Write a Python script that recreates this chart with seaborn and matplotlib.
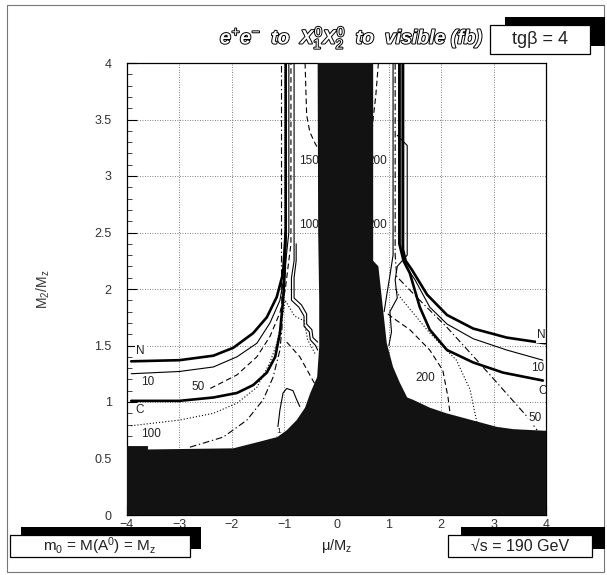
import matplotlib
matplotlib.use("Agg")
import matplotlib.pyplot as plt
import matplotlib.patheffects as pe
from matplotlib.patches import Rectangle
import seaborn as sns

# ---------------- data (mu/Mz , M2/Mz) ----------------
# excluded (black) region
BLACK_MU = [-0.36, -0.35, -0.33, -0.33, -0.37, -0.50, -0.60, -0.76, -0.95, -1.13, -1.46, -1.97,
            -3.60, -3.60, -4.00, -4.00, 4.00, 4.00, 3.37, 3.06, 2.74, 2.42, 2.10, 1.78, 1.46,
            1.35, 1.21, 1.08, 0.96, 0.87, 0.80, 0.70, 0.70]
BLACK_M2 = [4.00, 2.50, 1.90, 1.49, 1.22, 1.08, 0.95, 0.84, 0.75, 0.69, 0.65, 0.59,
            0.58, 0.61, 0.61, 0.00, 0.00, 0.745, 0.76, 0.78, 0.82, 0.86, 0.90, 0.95, 1.02,
            1.04, 1.17, 1.31, 1.52, 1.90, 2.20, 2.25, 4.00]

# left branch (mu < 0)
L_N_MU = [-3.92, -3.00, -2.35, -1.97, -1.59, -1.33, -1.14, -1.02, -0.97, -0.97]
L_N_M2 = [1.36, 1.37, 1.41, 1.48, 1.61, 1.75, 1.93, 2.14, 2.50, 4.00]
L_10_MU = [-3.92, -3.00, -2.35, -1.90, -1.52, -1.27, -1.08, -1.00, -0.91, -0.91]
L_10_M2 = [1.25, 1.27, 1.31, 1.40, 1.52, 1.70, 1.90, 2.11, 2.50, 4.00]
L_C_MU = [-3.92, -3.00, -2.35, -1.90, -1.59, -1.33, -1.17, -1.08, -1.02, -0.99, -0.97]
L_C_M2 = [1.01, 1.01, 1.04, 1.08, 1.15, 1.26, 1.40, 1.61, 1.90, 2.14, 2.50]
L_50_MU = [-2.41, -1.90, -1.52, -1.27, -1.08, -0.98, -0.87, -0.87]
L_50_M2 = [1.12, 1.24, 1.40, 1.58, 1.79, 1.99, 2.40, 4.00]
L_DOT_MU = [-3.92, -3.00, -2.35, -1.90, -1.52, -1.27, -1.14, -1.04, -0.98, -0.80, -0.62, -0.55, -0.40]
L_DOT_M2 = [0.79, 0.84, 0.90, 0.99, 1.13, 1.35, 1.52, 1.73, 1.90, 1.76, 1.72, 1.55, 1.42]
L_100_MU = [-2.80, -2.16, -1.71, -1.40, -1.21, -1.08, -1.04, -1.05, -1.05]
L_100_M2 = [0.60, 0.69, 0.84, 1.02, 1.22, 1.46, 1.66, 2.20, 4.00]
L_DD2_MU = [-0.95, -0.70, -0.45, -0.40]
L_DD2_M2 = [1.53, 1.40, 1.19, 1.15]
L_S1_MU = [-0.81, -0.81, -0.86, -0.86, -0.72, -0.62, -0.62, -0.52, -0.50, -0.40, -0.36]
L_S1_M2 = [4.00, 2.25, 2.10, 1.90, 1.84, 1.76, 1.67, 1.62, 1.55, 1.50, 1.46]
L_S2_MU = [-0.77, -0.77, -0.81, -0.81, -0.67, -0.57, -0.57, -0.47, -0.45, -0.36]
L_S2_M2 = [2.40, 2.25, 2.10, 1.92, 1.86, 1.78, 1.69, 1.64, 1.57, 1.53]
L_ONE_MU = [-1.14, -1.08, -1.02, -0.95, -0.83, -0.76, -0.70]
L_ONE_M2 = [0.70, 0.93, 1.08, 1.12, 1.10, 1.02, 0.96]
UL_MU = [-0.60, -0.57, -0.51, -0.41, -0.35]
UL_M2 = [4.00, 3.54, 3.39, 3.29, 3.24]

# right branch (mu > 0)
R_N_MU = [1.27, 1.27, 1.32, 1.44, 1.73, 2.11, 2.61, 3.25, 3.98]
R_N_M2 = [4.00, 2.35, 2.25, 2.17, 1.95, 1.77, 1.65, 1.57, 1.52]
R_10_MU = [1.23, 1.23, 1.30, 1.50, 1.78, 2.11, 2.61, 3.25, 3.94]
R_10_M2 = [4.00, 2.35, 2.22, 2.08, 1.84, 1.69, 1.56, 1.46, 1.37]
R_C_MU = [1.20, 1.20, 1.28, 1.40, 1.59, 1.78, 2.11, 2.61, 3.18, 3.94]
R_C_M2 = [4.00, 2.40, 2.25, 2.14, 1.84, 1.64, 1.46, 1.35, 1.26, 1.19]
R_50_MU = [1.12, 1.12, 1.15, 1.59, 2.11, 2.68, 3.18, 3.64, 3.83]
R_50_M2 = [4.00, 2.30, 2.11, 1.90, 1.66, 1.37, 1.11, 0.87, 0.75]
R_DOT_MU = [1.12, 1.21, 1.78, 2.29, 2.55, 2.68, 2.72]
R_DOT_M2 = [2.00, 1.93, 1.61, 1.37, 1.11, 0.82, 0.81]
R_200_MU = [0.98, 1.06, 1.40, 1.78, 2.03, 2.13, 2.17]
R_200_M2 = [1.78, 1.75, 1.64, 1.46, 1.28, 1.04, 0.89]
R_S1_MU = [1.08, 1.08, 1.02, 0.95, 0.91]
R_S1_M2 = [4.00, 2.30, 2.12, 1.92, 1.80]
R_S2_MU = [1.16, 1.35, 1.35, 1.16, 1.12, 1.16, 1.02, 1.05, 1.00]
R_S2_M2 = [3.36, 3.27, 2.30, 2.20, 2.08, 1.92, 1.80, 1.62, 1.50]
UR_MU = [0.80, 0.75, 0.70, 0.68]
UR_M2 = [4.00, 3.71, 3.51, 3.40]

# contour labels
LBL_TEXT = ["N", "10", "50", "C", "100", "1", "150", "100", "200", "200",
            "N", "10", "C", "50", "200"]
LBL_MU = [-3.75, -3.60, -2.64, -3.75, -3.55, -1.10, -0.52, -0.52, 0.77, 0.77,
          3.92, 3.85, 3.93, 3.80, 1.70]
LBL_M2 = [1.45, 1.18, 1.13, 0.93, 0.72, 0.74, 3.13, 2.57, 3.13, 2.57,
          1.59, 1.30, 1.10, 0.86, 1.21]

X_TICKS = [-4, -3, -2, -1, 0, 1, 2, 3, 4]
Y_TICKS = [0, 0.5, 1, 1.5, 2, 2.5, 3, 3.5, 4]
Y_TICKLABELS = ["0", "0.5", "1", "1.5", "2", "2.5", "3", "3.5", "4"]

# ---------------- figure ----------------
sns.set_theme(style="white")
plt.rcParams["font.family"] = ["Liberation Sans", "DejaVu Sans"]
plt.rcParams["mathtext.fontset"] = "custom"
plt.rcParams["mathtext.rm"] = "Liberation Sans"
plt.rcParams["mathtext.it"] = "Liberation Sans:italic:bold"
plt.rcParams["mathtext.bf"] = "Liberation Sans:bold"

W, H = 607, 575
fig = plt.figure(figsize=(W / 100, H / 100), dpi=100)
fig.patch.set_facecolor("white")
ax = fig.add_axes([127 / W, 1 - 515 / H, (546 - 127) / W, (515 - 63) / H])
ax.set_facecolor("white")


def curve(mu, m2, lw=0.8, ls="-", color="black"):
    sns.lineplot(x=mu, y=m2, sort=False, estimator=None, color=color,
                 linewidth=lw, linestyle=ls, ax=ax, zorder=2, legend=False)


THICK, THIN = 1.9, 0.8
DASH = (0, (5, 3))
DDOT = (0, (6, 2.5, 1.2, 2.5))
DOT = (0, (1, 1.8))

curve(L_N_MU, L_N_M2, THICK)
curve(L_10_MU, L_10_M2, THIN)
curve(L_C_MU, L_C_M2, THICK)
curve(L_50_MU, L_50_M2, THIN, DASH)
curve(L_DOT_MU, L_DOT_M2, THIN, DOT)
curve(L_100_MU, L_100_M2, THIN, DDOT)
curve(L_DD2_MU, L_DD2_M2, THIN, DASH)
curve(L_S1_MU, L_S1_M2, THIN)
curve(L_S2_MU, L_S2_M2, THIN)
curve(L_ONE_MU, L_ONE_M2, THIN)
curve(UL_MU, UL_M2, THIN, DASH)

curve(R_N_MU, R_N_M2, THICK)
curve(R_10_MU, R_10_M2, THIN)
curve(R_C_MU, R_C_M2, THICK)
curve(R_50_MU, R_50_M2, THIN, DDOT)
curve(R_DOT_MU, R_DOT_M2, THIN, DOT)
curve(R_200_MU, R_200_M2, THIN, DASH)
curve(R_S1_MU, R_S1_M2, THIN)
curve(R_S2_MU, R_S2_M2, THIN)
curve(UR_MU, UR_M2, THIN, DASH)

for t, x, y in zip(LBL_TEXT, LBL_MU, LBL_M2):
    ax.text(x, y, t, fontsize=8.5 if t != "1" else 6, ha="center", va="center",
            color="#222222", zorder=2.5,
            bbox=dict(boxstyle="square,pad=0.1", fc="white", ec="none"))

# excluded region
ax.fill(BLACK_MU, BLACK_M2, color="#121212", lw=0, zorder=3)

ax.set_xlim(-4, 4)
ax.set_ylim(0, 4)
ax.set_xticks(X_TICKS)
ax.set_xticklabels([f"\u2212{abs(v)}" if v < 0 else str(v) for v in X_TICKS])
ax.set_yticks(Y_TICKS)
ax.set_yticklabels(Y_TICKLABELS)
ax.set_xticks([v / 4 for v in range(-16, 17)], minor=True)
ax.set_yticks([v / 10 for v in range(0, 41)], minor=True)
ax.tick_params(which="major", direction="in", length=7, width=0.8, labelsize=9,
               colors="black", bottom=True, left=True, top=False, right=False)
ax.tick_params(axis="y", which="major", pad=11)
ax.tick_params(axis="x", which="major", pad=3)
ax.tick_params(which="minor", direction="in", length=3.5, width=0.6,
               bottom=True, left=True, top=False, right=False)
for lab in ax.get_xticklabels() + ax.get_yticklabels():
    lab.set_color("#333333")
ax.grid(True, which="major", color="#555555", linestyle=(0, (1, 2)), linewidth=0.6, zorder=1)
ax.set_axisbelow(True)
for s in ax.spines.values():
    s.set_linewidth(0.9)
    s.set_color("black")
    s.set_visible(True)
ax.set_xlabel("")
ax.set_ylabel("M$_2$/M$_\\mathrm{z}$", fontsize=10, color="#333333")
ax.yaxis.set_label_coords(-0.178, 0.5)

fig.text(337 / W, 1 - 546 / H, "\u03bc/M$_\\mathrm{z}$", fontsize=10.5,
         ha="center", va="center", color="#222222")

# title with hollow letters
fig.text(352 / W, 1 - 38 / H,
         r"$e^{+}e^{-}$  to  $X^{\mathit{0}}_{\mathit{1}}X^{\mathit{0}}_{\mathit{2}}$  to  visible (fb)",
         fontsize=14, fontweight="bold", fontstyle="italic", ha="center", va="center",
         color="white",
         path_effects=[pe.Stroke(linewidth=1.4, foreground="black"), pe.Normal()])


def shadow_box(x0, y0, x1, y1, dx, dy):
    fig.add_artist(Rectangle(((x0 + dx) / W, 1 - (y1 + dy) / H), (x1 - x0) / W, (y1 - y0) / H,
                             transform=fig.transFigure, facecolor="black", edgecolor="none"))
    fig.add_artist(Rectangle((x0 / W, 1 - y1 / H), (x1 - x0) / W, (y1 - y0) / H,
                             transform=fig.transFigure, facecolor="white", edgecolor="black",
                             linewidth=0.9))


shadow_box(490, 25, 590, 54, 15, -8)
fig.text(540 / W, 1 - 40 / H, "tg\u03b2 = 4", fontsize=13, ha="center", va="center", color="#222222")

shadow_box(10, 535, 190, 557, 11, -8)
fig.text(100 / W, 1 - 546 / H, "m$_0$ = M(A$^0$) = M$_\\mathrm{z}$", fontsize=11,
         ha="center", va="center", color="#222222")

shadow_box(448, 535, 592, 557, 13, -8)
fig.text(520 / W, 1 - 546 / H, "\u221as = 190 GeV", fontsize=11.5,
         ha="center", va="center", color="#222222")

# outer frame
fig.add_artist(Rectangle((7 / W, 1 - 572 / H), 597 / W, 567 / H, transform=fig.transFigure,
                         facecolor="none", edgecolor="#777777", linewidth=0.8, zorder=0))

fig.savefig("out.png", dpi=100, facecolor="white")
